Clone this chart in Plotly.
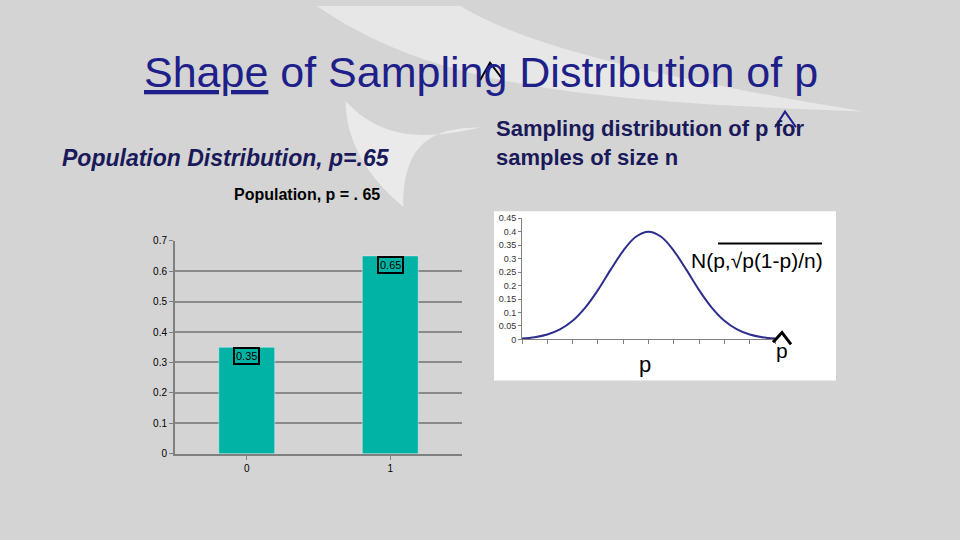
import plotly.graph_objects as go

# population distribution
pop_cats = ["0", "1"]
pop_vals = [0.35, 0.65]

# sampling distribution curve
curve_x = [0, 0.5, 1, 1.5, 2, 2.5, 3, 3.5, 4, 4.5, 5, 5.5, 6, 6.5, 7, 7.5, 8, 8.5, 9, 9.5, 10]
curve_y = [0.003, 0.008, 0.018, 0.037, 0.069, 0.118, 0.183, 0.258, 0.329, 0.381, 0.4,
           0.381, 0.329, 0.258, 0.183, 0.118, 0.069, 0.037, 0.018, 0.008, 0.003]

navy = "#1f1f8a"
fig = go.Figure()

fig.add_bar(x=pop_cats, y=pop_vals, marker_color="#00b3a4", width=0.39,
            xaxis="x", yaxis="y", showlegend=False, hoverinfo="skip")
fig.add_scatter(x=curve_x, y=curve_y, mode="lines", line=dict(color="#2e2e8c", width=2, shape="spline"),
                xaxis="x2", yaxis="y2", showlegend=False)

shapes = [
    # background swoosh
    dict(type="path", xref="paper", yref="paper", layer="below",
         path="M 0.33 1 C 0.45 0.85, 0.6 0.82, 0.9 0.8 C 0.7 0.86, 0.55 0.92, 0.48 1 Z",
         fillcolor="rgba(255,255,255,0.45)", line_width=0),
    dict(type="path", xref="paper", yref="paper", layer="below",
         path="M 0.36 0.82 C 0.4 0.74, 0.45 0.75, 0.5 0.77 C 0.45 0.77, 0.42 0.74, 0.42 0.62 C 0.38 0.68, 0.36 0.75, 0.36 0.82 Z",
         fillcolor="rgba(255,255,255,0.5)", line_width=0),
    # white panel behind right chart
    dict(type="rect", xref="paper", yref="paper", layer="below",
         x0=494/960, x1=836/960, y0=1-383/540, y1=1-210/540, fillcolor="white", line_width=0),
    # hats
    dict(type="path", xref="paper", yref="paper",
         path=f"M {480/960} {1-76/540} L {490/960} {1-58/540} L {502/960} {1-74/540}",
         line=dict(color="black", width=2)),
    dict(type="path", xref="paper", yref="paper",
         path=f"M {775/960} {1-124/540} L {785/960} {1-108/540} L {796/960} {1-124/540}",
         line=dict(color=navy, width=2)),
    dict(type="path", xref="paper", yref="paper",
         path=f"M {773/960} {1-344/540} L {782/960} {1-334/540} L {791/960} {1-346/540}",
         line=dict(color="black", width=3)),
    # radical overline
    dict(type="line", xref="paper", yref="paper",
         x0=718/960, x1=822/960, y0=1-243/540, y1=1-243/540, line=dict(color="black", width=2)),
]

P = dict(xref="paper", yref="paper", showarrow=False, xanchor="center", yanchor="middle")
annotations = [
    dict(text="<span style='text-decoration:underline'>Shape</span> of Sampling Distribution of p",
         x=481/960, y=1-68/540, font=dict(size=43, color=navy, family="Liberation Sans"), **P),
    dict(text="<i><b>Population Distribution, p=.65</b></i>", x=226/960, y=1-155/540,
         font=dict(size=23, color="#1a1a5a", family="Liberation Sans"), **P),
    dict(text="<b>Sampling distribution of p for<br>samples of size n</b>", x=650/960, y=1-140/540,
         align="left", font=dict(size=22, color="#1a1a5a", family="Liberation Sans"), **P),
    dict(text="<b>Population, p = . 65</b>", x=307/960, y=1-193/540,
         font=dict(size=16, color="black", family="Liberation Sans"), **P),
    dict(text="N(p,√p(1-p)/n)", x=757/960, y=1-260/540,
         font=dict(size=21, color="black", family="Liberation Sans"), **P),
    dict(text="p", x=645/960, y=1-367/540,
         font=dict(size=22, color="black", family="Liberation Sans"), **P),
    dict(text="p", x=782/960, y=1-352/540,
         font=dict(size=21, color="black", family="Liberation Sans"), **P),
]
for c, v in zip(pop_cats, pop_vals):
    annotations.append(dict(text=f"{v}", x=c, y=v - 0.03, xref="x", yref="y", showarrow=False,
                            bordercolor="black", borderwidth=2, borderpad=1,
                            font=dict(size=11, color="black", family="Liberation Sans")))

fig.update_layout(
    width=960, height=540, margin=dict(l=0, r=0, t=0, b=0),
    paper_bgcolor="#d4d4d4", plot_bgcolor="rgba(0,0,0,0)",
    shapes=shapes, annotations=annotations,
    xaxis=dict(domain=[175/960, 462/960], showline=True, linecolor="#808080", linewidth=2,
               ticks="outside", tickcolor="#808080", ticklen=4,
               tickfont=dict(size=10, color="black", family="Liberation Sans")),
    yaxis=dict(domain=[1-458/540, 1-240/540], range=[0, 0.7], dtick=0.1, showline=True,
               linecolor="#808080", linewidth=2, gridcolor="#8a8a8a", gridwidth=2,
               ticks="outside", tickcolor="#808080", ticklen=4, zeroline=False,
               tickfont=dict(size=10, color="black", family="Liberation Sans")),
    xaxis2=dict(domain=[522/960, 775/960], anchor="y2", range=[0, 10], dtick=1, showline=True,
                linecolor="#808080", ticks="outside", tickcolor="#808080", ticklen=4,
                showticklabels=False, showgrid=False, zeroline=False),
    yaxis2=dict(domain=[1-341/540, 1-217/540], anchor="x2", range=[0, 0.45], dtick=0.05,
                showline=True, linecolor="#808080", ticks="outside", tickcolor="#808080",
                ticklen=3, showgrid=False, zeroline=False,
                tickfont=dict(size=9, color="#333", family="Liberation Sans")),
)

fig.write_html("out.html", config={"displayModeBar": False},
               post_script="document.body.style.margin='0';")
